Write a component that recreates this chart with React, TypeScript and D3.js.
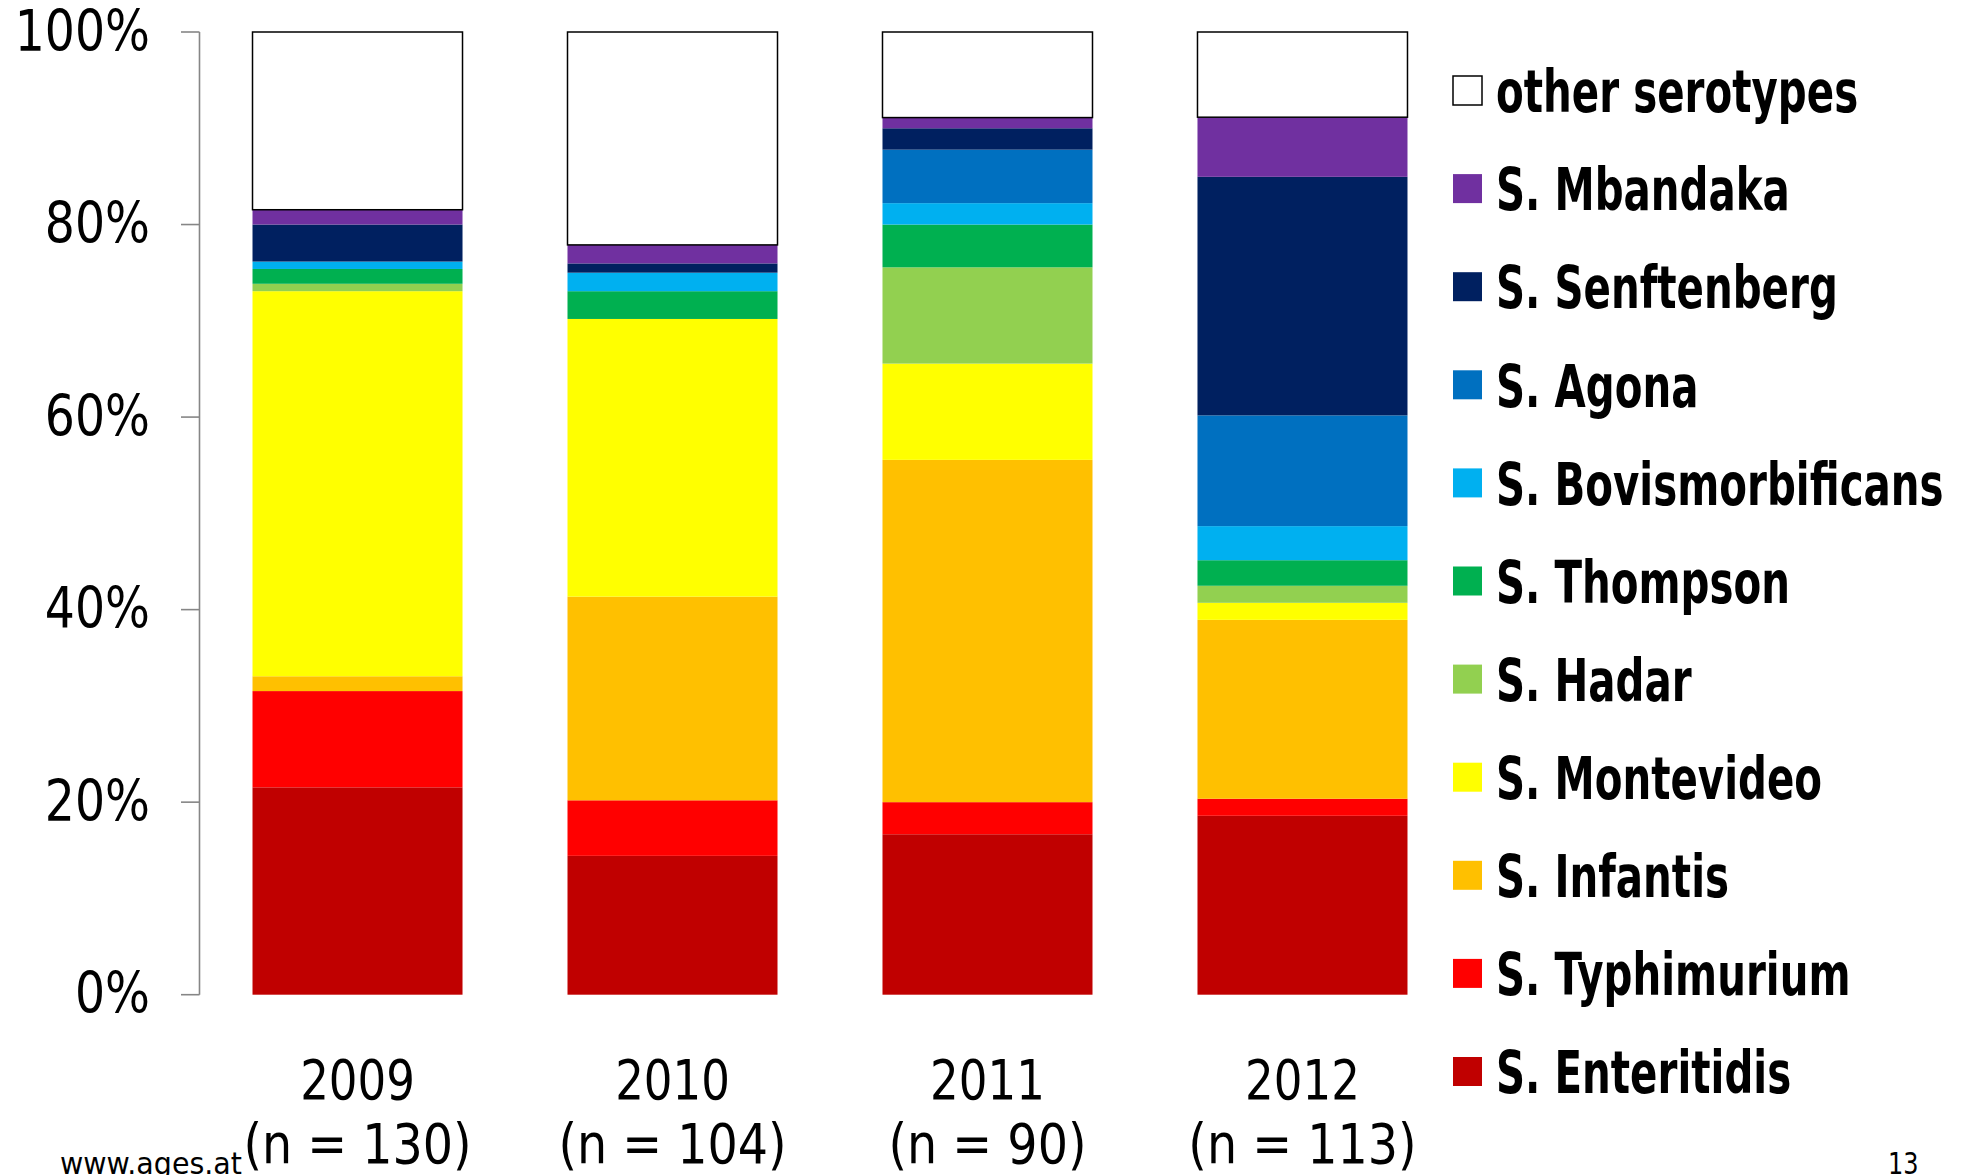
import React from "react";
import * as d3 from "d3";

// Years (x categories) and sample sizes
const years = ["2009", "2010", "2011", "2012"];
const sampleSizes = [130, 104, 90, 113];

// Serotype counts per year
const enteritidis = [28, 15, 15, 21];
const typhimurium = [13, 6, 3, 2];
const infantis = [2, 22, 32, 21];
const montevideo = [52, 30, 9, 2];
const hadar = [1, 0, 9, 2];
const thompson = [2, 3, 4, 3];
const bovismorbificans = [1, 2, 2, 4];
const agona = [0, 0, 5, 13];
const senftenberg = [5, 1, 2, 28];
const mbandaka = [2, 2, 1, 7];
const otherSerotypes = [24, 23, 8, 10];

// Stack order bottom -> top
const seriesKeys = [
  "S. Enteritidis",
  "S. Typhimurium",
  "S. Infantis",
  "S. Montevideo",
  "S. Hadar",
  "S. Thompson",
  "S. Bovismorbificans",
  "S. Agona",
  "S. Senftenberg",
  "S. Mbandaka",
  "other serotypes",
];
const seriesValues = [
  enteritidis,
  typhimurium,
  infantis,
  montevideo,
  hadar,
  thompson,
  bovismorbificans,
  agona,
  senftenberg,
  mbandaka,
  otherSerotypes,
];
const seriesColors = [
  "#C00000",
  "#FF0000",
  "#FFC000",
  "#FFFF00",
  "#92D050",
  "#00B050",
  "#00B0F0",
  "#0070C0",
  "#002060",
  "#7030A0",
  "#FFFFFF",
];
const yTicks = [0, 0.2, 0.4, 0.6, 0.8, 1];

const W = 1972;
const H = 1175;
const FONT = "'DejaVu Sans', Verdana, sans-serif";

export default function App() {
  const rows = years.map((y, i) => {
    const r: any = { year: y };
    seriesKeys.forEach((k, j) => (r[k] = seriesValues[j][i]));
    return r;
  });
  const stacked = d3
    .stack()
    .keys(seriesKeys)
    .offset(d3.stackOffsetExpand)(rows as any);

  const x = d3
    .scaleBand()
    .domain(years)
    .range([200, 1460])
    .paddingInner(0.3333)
    .paddingOuter(0.1667);
  const y = d3.scaleLinear().domain([0, 1]).range([994.7, 32]);

  const axisX = 199.5;
  const legendX = 1453;
  const legendTop = 90.5;
  const legendStep = 98.1;
  const legendOrder = [...seriesKeys].map((k, i) => i).reverse();

  return (
    <svg
      width={W}
      height={H}
      style={{ position: "absolute", left: 0, top: 0, background: "#fff" }}
      fontFamily={FONT}
    >
      <rect x={0} y={0} width={W} height={H} fill="#fff" />
      {/* bars */}
      {stacked.map((s, si) => (
        <g key={seriesKeys[si]}>
          {s.map((d: any, i: number) => {
            const h = y(d[0]) - y(d[1]);
            if (h <= 0.01) return null;
            const isOther = si === seriesKeys.length - 1;
            return (
              <rect
                key={years[i]}
                x={x(years[i])!}
                y={y(d[1])}
                width={x.bandwidth()}
                height={h}
                fill={seriesColors[si]}
                stroke={isOther ? "#000" : "none"}
                strokeWidth={isOther ? 1.5 : 0}
              />
            );
          })}
        </g>
      ))}

      {/* y axis */}
      <line x1={axisX} x2={axisX} y1={y(1)} y2={y(0)} stroke="#868686" strokeWidth={1.6} />
      {yTicks.map((t) => (
        <g key={t}>
          <line x1={181} x2={axisX} y1={y(t)} y2={y(t)} stroke="#868686" strokeWidth={1.6} />
          <text
            transform={`translate(150,${y(t) + 18.6}) scale(0.83,1)`}
            textAnchor="end"
            fontSize={57}
            fill="#000"
          >
            {d3.format(".0%")(t)}
          </text>
        </g>
      ))}

      {/* x labels */}
      {years.map((yr, i) => {
        const cx = x(yr)! + x.bandwidth() / 2;
        return (
          <g key={yr}>
            <text
              transform={`translate(${cx},1099) scale(0.82,1)`}
              textAnchor="middle"
              fontSize={55}
              fill="#000"
            >
              {yr}
            </text>
            <text
              transform={`translate(${cx},1163) scale(0.85,1)`}
              textAnchor="middle"
              fontSize={56}
              fill="#000"
            >
              {`(n = ${sampleSizes[i]})`}
            </text>
          </g>
        );
      })}

      {/* legend */}
      {legendOrder.map((si, row) => {
        const cy = legendTop + row * legendStep;
        const isOther = si === seriesKeys.length - 1;
        return (
          <g key={seriesKeys[si]}>
            <rect
              x={legendX}
              y={cy - 14.5}
              width={29}
              height={29}
              fill={seriesColors[si]}
              stroke={isOther ? "#000" : "none"}
              strokeWidth={isOther ? 1.5 : 0}
            />
            <text
              transform={`translate(1496,${cy + 21.7}) scale(0.68,1)`}
              fontSize={59.4}
              fontWeight="bold"
              fill="#000"
            >
              {seriesKeys[si]}
            </text>
          </g>
        );
      })}

      {/* footer */}
      <text transform="translate(60,1174) scale(0.92,1)" fontSize={31} fill="#000">
        www.ages.at
      </text>
      <text transform="translate(1888,1174) scale(0.8,1)" fontSize={30} fill="#000">
        13
      </text>
    </svg>
  );
}
